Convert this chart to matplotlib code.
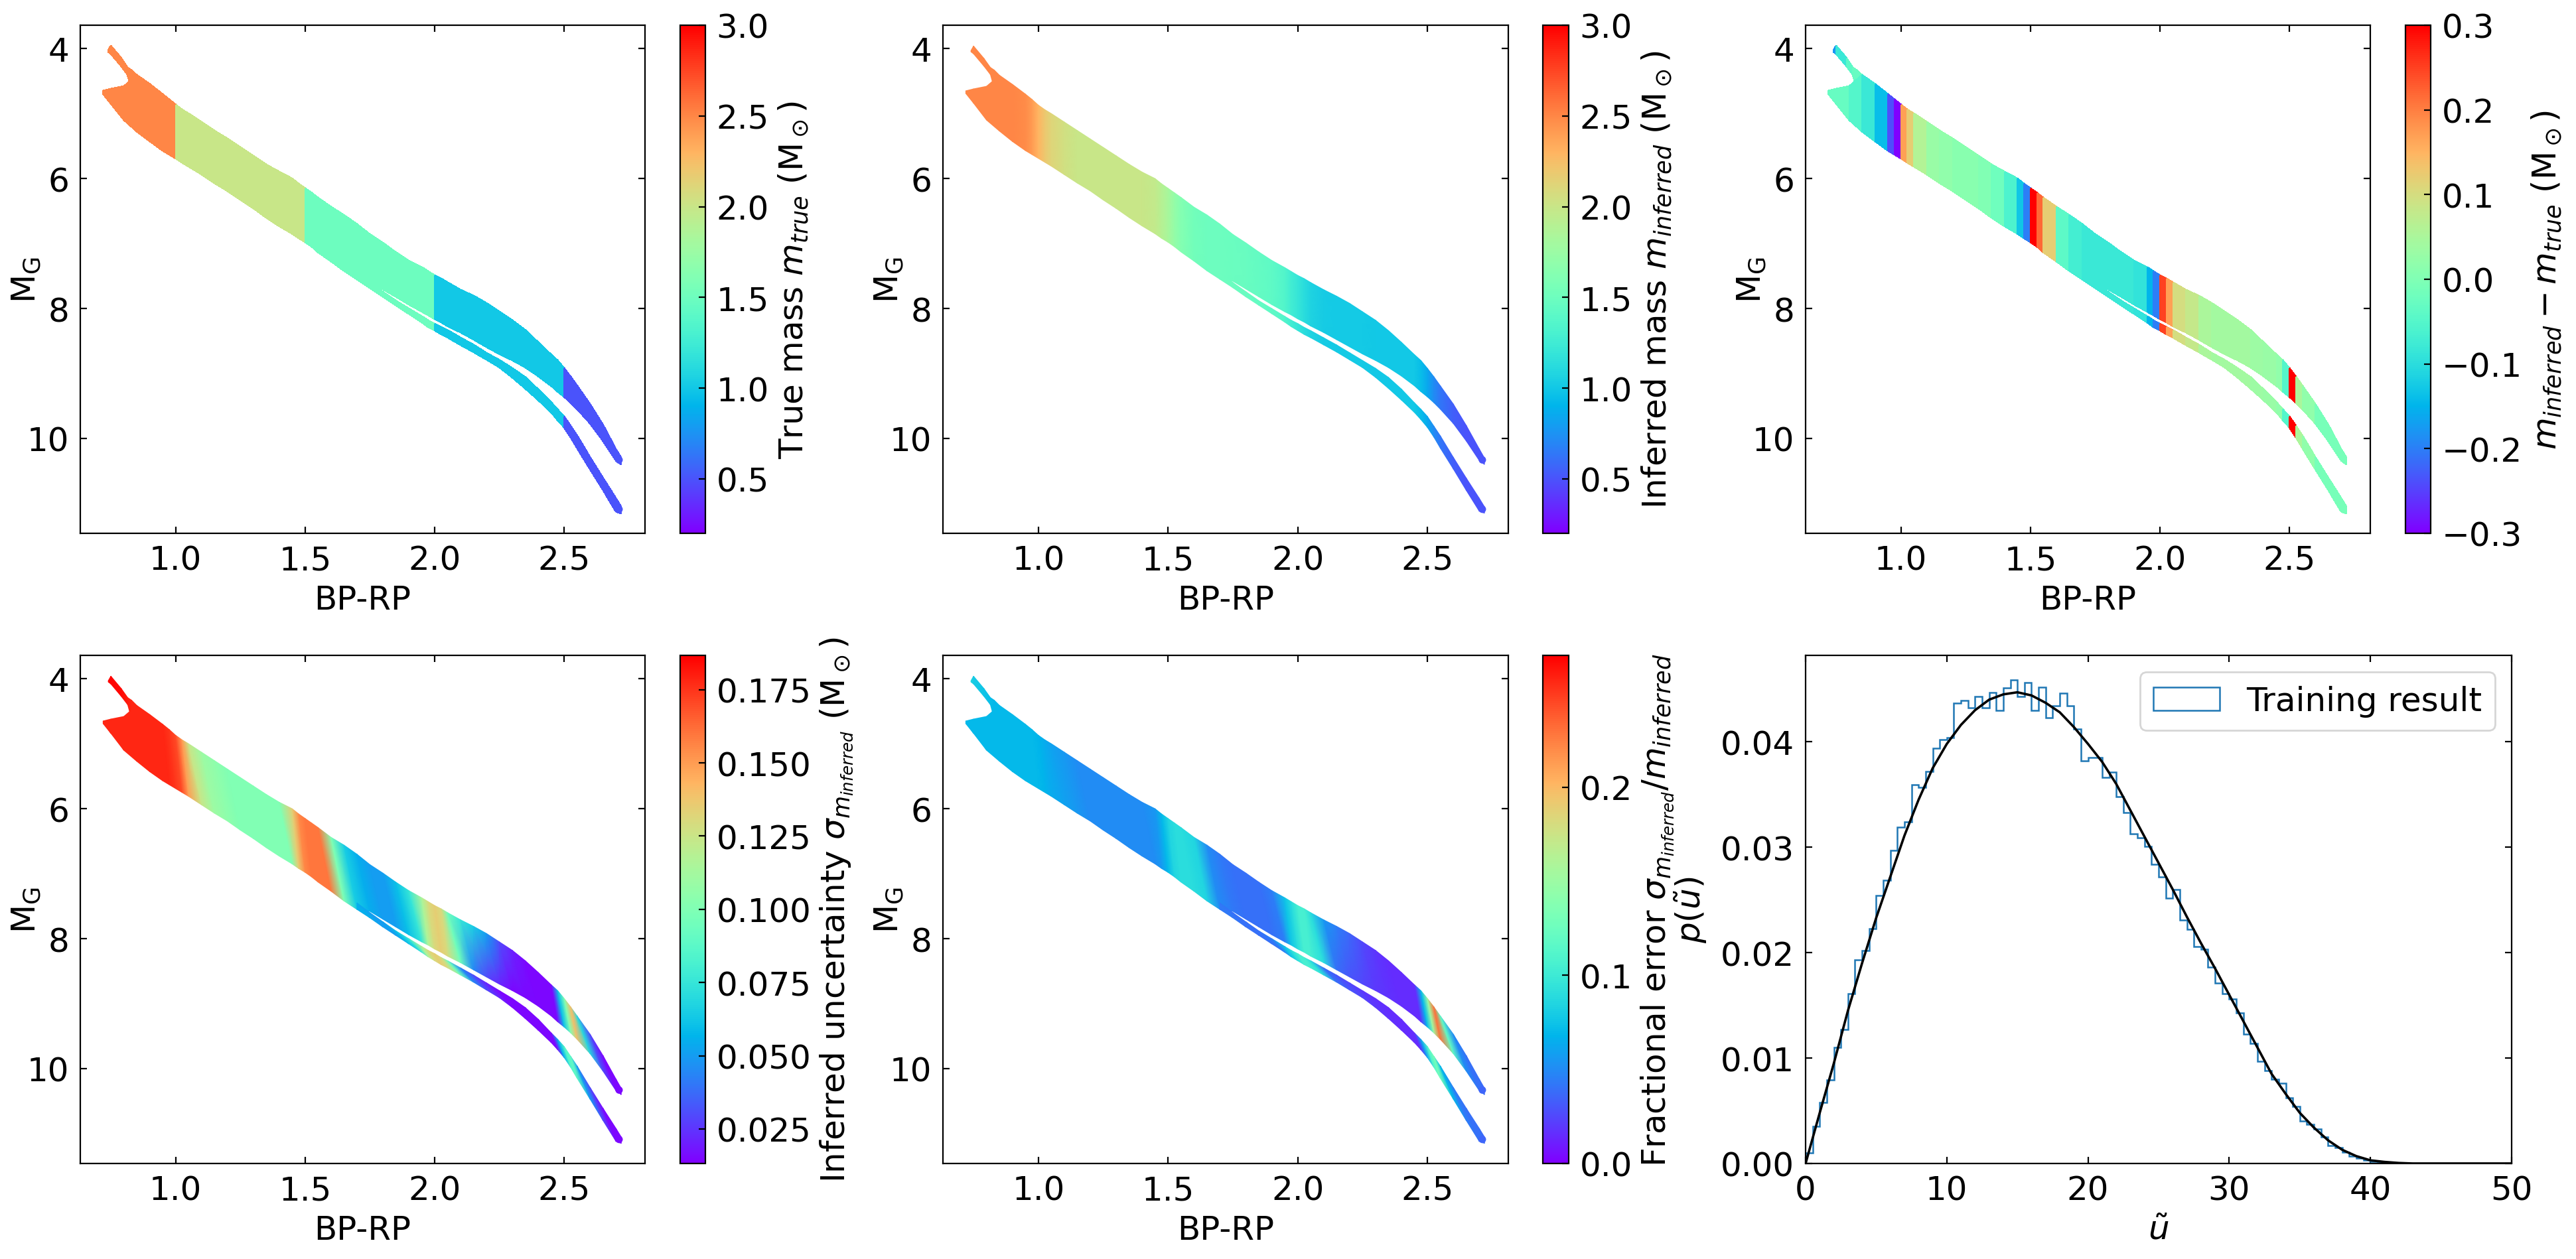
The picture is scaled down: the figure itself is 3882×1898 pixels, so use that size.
import numpy as np
import matplotlib
matplotlib.use("Agg")
import matplotlib.pyplot as plt
from matplotlib.colors import Normalize

W, H, DPI = 3882, 1899, 200

# ---- colour-magnitude band: nodes along BP-RP
band_x = [0.72,0.75,0.80,0.85,0.90,0.95,0.975,1.0,1.025,1.05,1.10,1.15,1.20,1.25,1.30,1.35,1.40,1.45,1.475,1.5,
          1.525,1.55,1.60,1.65,1.70,1.75,1.80,1.85,1.90,1.95,1.975,2.0,2.025,2.05,2.10,2.15,2.20,2.25,2.30,2.35,
          2.40,2.45,2.475,2.5,2.525,2.55,2.60,2.65,2.70,2.72]
band_top = [4.65,4.62,4.58,4.41,4.55,4.70,4.78,4.87,4.94,5.00,5.13,5.26,5.39,5.52,5.65,5.78,5.90,6.00,6.08,6.15,
            6.22,6.29,6.44,6.56,6.70,6.86,6.99,7.13,7.26,7.37,7.43,7.49,7.54,7.60,7.71,7.81,7.92,8.05,8.18,8.34,
            8.52,8.71,8.80,8.92,9.05,9.19,9.47,9.80,10.16,10.30]
band_bot = [4.69,4.84,5.10,5.27,5.43,5.57,5.63,5.69,5.75,5.81,5.94,6.07,6.19,6.33,6.46,6.60,6.73,6.85,6.92,6.98,
            7.05,7.13,7.27,7.42,7.55,7.58,7.70,7.82,7.94,8.05,8.10,8.16,8.21,8.27,8.37,8.48,8.59,8.70,8.80,8.91,
            9.04,9.19,9.28,9.36,9.45,9.55,9.77,10.04,10.34,10.40]
# lower (single-star) strip, from BP-RP = 1.70 on
strip_top = [7.45,7.60,7.74,7.88,8.00,8.12,8.18,8.23,8.29,8.34,8.45,8.56,8.68,8.80,8.92,9.06,9.24,9.45,9.55,9.66,
             9.81,9.96,10.29,10.61,10.92,11.05]
strip_bot = [7.55,7.68,7.82,7.95,8.08,8.21,8.28,8.34,8.40,8.45,8.56,8.67,8.79,8.91,9.06,9.23,9.41,9.60,9.71,9.83,
             9.98,10.15,10.47,10.80,11.12,11.15]
# the thin spike at the bright end
spike_x = [0.74,0.75,0.79,0.815,0.83,0.85]
spike_top = [4.03,3.96,4.15,4.29,4.33,4.41]
spike_bot = [4.05,4.08,4.27,4.40,4.62,4.62]
# rounded ends of the two faint tails
tail_x = [2.712,2.712]
tail_y = [10.33,11.09]

# per-cell values (between band nodes)
m_true = [2.5]*7 + [2.0]*12 + [1.5]*12 + [1.0]*12 + [0.5]*6
m_diff = [-.03,-.03,-.05,-.08,-.14,-.24,-.30,.17,.12,.06,.03,.02,.01,.01,0,-.02,-.06,-.13,-.20,.30,.22,.12,-.04,-.07,
          -.08,-.08,-.08,-.08,-.09,-.15,-.20,.25,.17,.10,.08,.05,.04,.04,.04,.035,.03,.02,-.05,.30,.05,.02,-.01,-.01,-.01]
# per-node values
m_inf = [2.5,2.5,2.5,2.5,2.5,2.48,2.42,2.3,2.2,2.12,2.04,2.0,2.0,2.0,2.0,2.0,2.0,1.97,1.9,1.82,
         1.72,1.63,1.53,1.5,1.5,1.48,1.47,1.45,1.42,1.35,1.27,1.2,1.13,1.07,1.03,1.02,1.01,1.01,1.0,1.0,
         1.0,1.0,.95,.85,.72,.63,.54,.5,.5,.5]
sigma = [.178,.178,.178,.178,.178,.178,.175,.17,.15,.125,.11,.105,.10,.10,.10,.10,.10,.135,.155,.16,
         .16,.16,.10,.065,.055,.05,.05,.06,.075,.115,.13,.135,.13,.095,.045,.03,.022,.015,.015,.015,
         .015,.015,.06,.10,.14,.07,.03,.015,.015,.015]
sigma_upper = [.178,.178,.178,.178,.178,.178,.175,.17,.15,.125,.11,.105,.10,.10,.10,.10,.10,.135,.155,.16,
               .16,.16,.10,.065,.055,.05,.05,.06,.075,.115,.13,.135,.13,.095,.075,.065,.05,.03,.02,.015,
               .015,.015,.06,.10,.14,.07,.03,.015,.015,.015]
sigma_strip = [.055,.05,.05,.06,.075,.115,.13,.135,.13,.095,.045,.03,.022,.015,.015,.015,
               .015,.015,.055,.085,.09,.05,.03,.015,.015,.015]
frac = [.07,.07,.07,.07,.07,.07,.07,.068,.064,.06,.055,.05,.05,.05,.05,.05,.05,.055,.07,.085,
        .09,.09,.085,.05,.043,.04,.04,.04,.045,.075,.09,.105,.105,.09,.04,.03,.025,.02,.017,.015,
        .015,.015,.07,.15,.23,.12,.05,.04,.04,.035]
frac_upper = [.07,.07,.07,.07,.07,.07,.07,.068,.064,.06,.055,.05,.05,.05,.05,.05,.05,.055,.07,.085,
              .09,.09,.085,.05,.043,.04,.04,.04,.045,.075,.09,.105,.105,.09,.055,.045,.035,.025,.018,.015,
              .015,.015,.07,.15,.23,.12,.05,.04,.04,.035]
frac_strip = [.043,.04,.04,.04,.045,.075,.09,.105,.105,.09,.04,.03,.025,.02,.017,.015,
              .015,.015,.06,.11,.13,.07,.045,.04,.04,.035]
spike_m_true = [2.5]*5
spike_m_diff = [-.18,-.08,-.04,-.03,-.03]
spike_m_inf = [2.5]*6
spike_sigma = [.186,.186,.184,.18,.178,.178]
spike_frac = [.085,.08,.075,.072,.07,.07]

# ---- histogram (bin width 0.5) and the analytic curve
hist_edges = [i*0.5 for i in range(101)]
hist_vals = [.001,.0035,.0058,.0079,.011,.0127,.0161,.0193,.0202,.0223,.0254,.0269,.0297,.0319,.0324,.0359,.0357,.0372,
             .0394,.0402,.0404,.0437,.0439,.0432,.0443,.0432,.0447,.043,.0451,.0459,.0443,.0456,.043,.0452,.0423,.0434,
             .0446,.0434,.0412,.0382,.0385,.0385,.0366,.0371,.0348,.0333,.0313,.0309,.0301,.0284,.0272,.0252,.026,.0231,
             .0222,.0206,.0203,.0186,.0171,.0161,.0156,.0143,.0123,.0114,.0097,.0088,.008,.0076,.0062,.0054,.004,.0037,
             .0033,.0025,.0017,.0015,.0011,.0007,.0005,.0003,.0002,.0001] + [0.0]*18
curve_u = list(range(44)) + [50]
curve_p = [0,.0048,.0095,.0145,.0190,.0233,.0272,.0311,.0345,.0375,.0398,.0416,.0430,.0440,.0445,.0447,.0444,.0437,
           .0428,.0414,.0398,.0381,.0360,.0335,.0310,.0285,.0260,.0234,.0209,.0185,.0160,.0135,.0110,.0085,.0066,
           .0048,.0034,.0022,.0013,.0007,.0003,.00015,.00005,0,0]

x_ticks = [1.0,1.5,2.0,2.5]
y_ticks = [4,6,8,10]

plt.rcParams.update({'font.size':18,'axes.linewidth':0.8,'xtick.direction':'in','ytick.direction':'in',
                     'xtick.top':True,'ytick.right':True,'xtick.major.size':3.5,'ytick.major.size':3.5,
                     'xtick.major.pad':6,'ytick.major.pad':6,'mathtext.default':'it'})
fig = plt.figure(figsize=(W/DPI,H/DPI),dpi=DPI)

def add_axes(l,r,t,b):
    return fig.add_axes([l/W,1-b/H,(r-l)/W,(b-t)/H])

def flat(ax,x,top,bot,c,norm):
    x=np.asarray(x)
    return ax.pcolormesh(np.array([x,x]),np.array([top,bot]),np.array([c]),cmap='rainbow',norm=norm,
                         shading='flat',edgecolors='face',linewidth=0.6)

def smooth(ax,x,top,bot,c,norm,tilt,c_upper=None):
    x=list(x);top=list(top);bot=list(bot);c=list(c)
    cu=list(c_upper) if c_upper is not None else c
    if tilt:
        X=np.array([[x[0]]+x,x+[x[-1]]]);Y=np.array([[top[0]]+top,bot+[bot[-1]]]);C=np.array([[cu[0]]+cu,[c[0]]+c])
    else:
        X=np.array([x,x]);Y=np.array([top,bot]);C=np.array([cu,c])
    return ax.pcolormesh(X,Y,C,cmap='rainbow',norm=norm,shading='gouraud')

def tails(ax,vals,norm):
    ax.scatter(tail_x,tail_y,c=vals,cmap='rainbow',norm=norm,s=16,linewidths=0)

def finish(ax,cax,m,label,ticks,labelpad=4):
    ax.set_xlim(0.632,2.812);ax.set_ylim(11.46,3.64)
    ax.set_xticks(x_ticks);ax.set_yticks(y_ticks)
    ax.set_xticklabels(['%.1f'%t for t in x_ticks])
    ax.set_xlabel('BP-RP',fontsize=18,labelpad=4);ax.set_ylabel(r'$\mathrm{M_G}$',fontsize=18)
    ax.yaxis.set_label_coords(-0.067,0.5)
    cb=fig.colorbar(m,cax=cax,ticks=ticks)
    cb.set_label(label,fontsize=18,labelpad=labelpad)
    cb.ax.tick_params(direction='in',length=3.5,right=True,pad=6)

TOP,BOT=(39,805),(989,1755)
Msun=r'($\mathrm{M_\odot}$)'

# panel 1
ax=add_axes(121,972,*TOP);cax=add_axes(1025,1063,*TOP);n=Normalize(0.2,3.0)
flat(ax,spike_x,spike_top,spike_bot,spike_m_true,n)
m=flat(ax,band_x,band_top,band_bot,m_true,n)
flat(ax,band_x[24:],strip_top,strip_bot,m_true[24:],n)
tails(ax,[m_true[-1]]*2,n)
finish(ax,cax,m,'True mass $m_{true}$ '+Msun,[.5,1,1.5,2,2.5,3])

# panel 2
ax=add_axes(1421,2273,*TOP);cax=add_axes(2325,2364,*TOP)
smooth(ax,spike_x,spike_top,spike_bot,spike_m_inf,n,False)
m=smooth(ax,band_x,band_top,band_bot,m_inf,n,False)
smooth(ax,band_x[24:],strip_top,strip_bot,m_inf[24:],n,False)
tails(ax,[m_inf[-1]]*2,n)
finish(ax,cax,m,'Inferred mass $m_{inferred}$ '+Msun,[.5,1,1.5,2,2.5,3])

# panel 3
ax=add_axes(2721,3572,*TOP);cax=add_axes(3625,3663,*TOP);n=Normalize(-0.3,0.3)
flat(ax,spike_x,spike_top,spike_bot,spike_m_diff,n)
m=flat(ax,band_x,band_top,band_bot,m_diff,n)
flat(ax,band_x[24:],strip_top,strip_bot,m_diff[24:],n)
finish(ax,cax,m,r'$m_{inferred}-m_{true}$ '+Msun,[-.3,-.2,-.1,0,.1,.2,.3])

# panel 4
ax=add_axes(121,972,*BOT);cax=add_axes(1025,1063,*BOT);n=Normalize(0.0132,0.1867)
smooth(ax,spike_x,spike_top,spike_bot,spike_sigma,n,False)
m=smooth(ax,band_x,band_top,band_bot,sigma,n,True,sigma_upper)
smooth(ax,band_x[24:],strip_top,strip_bot,sigma_strip,n,True)
tails(ax,[sigma[-1],sigma_strip[-1]],n)
finish(ax,cax,m,r'Inferred uncertainty $\sigma_{m_{inferred}}$ '+Msun,[.025,.05,.075,.1,.125,.15,.175])

# panel 5
ax=add_axes(1421,2273,*BOT);cax=add_axes(2325,2364,*BOT);n=Normalize(0,0.27)
smooth(ax,spike_x,spike_top,spike_bot,spike_frac,n,False)
m=smooth(ax,band_x,band_top,band_bot,frac,n,True,frac_upper)
smooth(ax,band_x[24:],strip_top,strip_bot,frac_strip,n,True)
tails(ax,[frac[-1],frac_strip[-1]],n)
finish(ax,cax,m,r'Fractional error $\sigma_{m_{inferred}}/m_{inferred}$',[0,.1,.2])

# panel 6
ax=add_axes(2721,3785,*BOT)
ax.hist(hist_edges[:-1],bins=hist_edges,weights=hist_vals,histtype='step',color='C0',lw=0.9,label='Training result')
ax.plot(curve_u,curve_p,color='k',lw=1.3)
ax.set_xlim(0,50);ax.set_ylim(0,0.0482)
ax.set_xticks([0,10,20,30,40,50]);ax.set_yticks([0,.01,.02,.03,.04])
ax.set_yticklabels(['0.00','0.01','0.02','0.03','0.04'])
ax.set_xlabel(r'$\tilde{u}$',fontsize=18,labelpad=4);ax.set_ylabel(r'$p(\tilde{u})$',fontsize=18)
ax.yaxis.set_label_coords(-0.137,0.5)
ax.legend(loc='upper right',fontsize=18)

fig.savefig('out.png',dpi=DPI)
